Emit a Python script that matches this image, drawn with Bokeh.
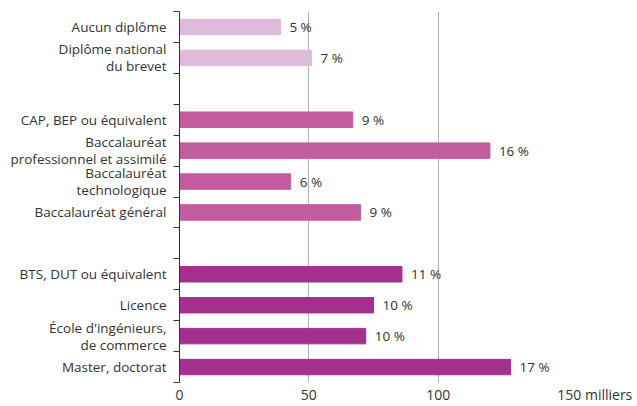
from bokeh.plotting import figure
from bokeh.models import Range1d, FixedTicker, ColumnDataSource
from bokeh.core.properties import value
from bokeh.embed import file_html
from bokeh.resources import INLINE

# Data (slots from top to bottom; None marks spacer rows)
categories = [["Aucun diplôme"], ["Diplôme national", "du brevet"], None,
              ["CAP, BEP ou équivalent"], ["Baccalauréat", "professionnel et assimilé"],
              ["Baccalauréat", "technologique"], ["Baccalauréat général"], None,
              ["BTS, DUT ou équivalent"], ["Licence"], ["École d'ingénieurs,", "de commerce"],
              ["Master, doctorat"]]
values_k = [39, 51, None, 67, 120, 43, 70, None, 86, 75, 72, 128]
shares = ["5 %", "7 %", "", "9 %", "16 %", "6 %", "9 %", "", "11 %", "10 %", "10 %", "17 %"]
groups = [0, 0, None, 1, 1, 1, 1, None, 2, 2, 2, 2]
group_colors = ["#DDB9DA", "#C25B9F", "#A3308E"]
x_ticks = [0, 50, 100, 150]
x_unit = "milliers"

FONT = "Open Sans"
TXT = "#333333"

ys, xs, cols, labs = [], [], [], []
for i, (v, s, g) in enumerate(zip(values_k, shares, groups)):
    if v is None:
        continue
    ys.append(i + 0.5)
    xs.append(v)
    cols.append(group_colors[g])
    labs.append(s)
src = ColumnDataSource(dict(y=ys, x=xs, color=cols, label=labs))

n = len(categories)
p = figure(width=637, height=406, output_backend="svg", toolbar_location=None,
           x_range=Range1d(0, 150), y_range=Range1d(n, 0),
           min_border_left=179, min_border_right=70, min_border_top=11, min_border_bottom=24)
p.outline_line_color = None

p.hbar(y="y", right="x", left=0, height=0.5, color="color", source=src)
p.text(x="x", y="y", text="label", source=src, x_offset=9, text_baseline="middle",
       text_align="left", text_font=value(FONT), text_font_size="13.5px", text_color=TXT)

# x axis
p.xaxis.ticker = FixedTicker(ticks=x_ticks)
pad = "\u00a0" * 15
p.xaxis.major_label_overrides = {x_ticks[-1]: pad + f"{x_ticks[-1]} {x_unit}"}
p.xaxis.axis_line_color = None
p.xaxis.major_tick_line_color = None
p.xaxis.minor_tick_line_color = None
p.xaxis.major_tick_out = 0
p.xaxis.major_tick_in = 0
p.xaxis.minor_tick_out = 0
p.xaxis.minor_tick_in = 0
p.xaxis.major_label_standoff = 2
p.xaxis.major_label_text_font = FONT
p.xaxis.major_label_text_font_size = "14px"
p.xaxis.major_label_text_color = TXT
p.xgrid.ticker = FixedTicker(ticks=x_ticks[1:])
p.xgrid.grid_line_color = "#B0B0B0"
p.xgrid.grid_line_width = 1
p.ygrid.grid_line_color = None

# y axis: one label per text line around slot centres, tick marks at slot boundaries
LINE = 0.275
label_pos, label_txt = [], []
for i, c in enumerate(categories):
    if c is None:
        continue
    if len(c) == 1:
        label_pos.append(i + 0.5)
        label_txt.append(c[0])
    else:
        label_pos += [i + 0.5 - LINE, i + 0.5 + LINE]
        label_txt += c
p.yaxis.ticker = FixedTicker(ticks=label_pos, minor_ticks=list(range(n + 1)))
p.yaxis.major_label_overrides = {pos: t for pos, t in zip(label_pos, label_txt)}
p.yaxis.major_tick_line_color = None
p.yaxis.major_tick_out = 6
p.yaxis.major_tick_in = 0
p.yaxis.minor_tick_out = 6
p.yaxis.minor_tick_in = 0
p.yaxis.minor_tick_line_color = TXT
p.yaxis.axis_line_color = TXT
p.yaxis.major_label_standoff = 7
p.yaxis.major_label_text_font = FONT
p.yaxis.major_label_text_font_size = "13.5px"
p.yaxis.major_label_text_color = TXT
p.yaxis.major_label_text_align = "right"

open("out.html", "w").write(file_html(p, INLINE))
